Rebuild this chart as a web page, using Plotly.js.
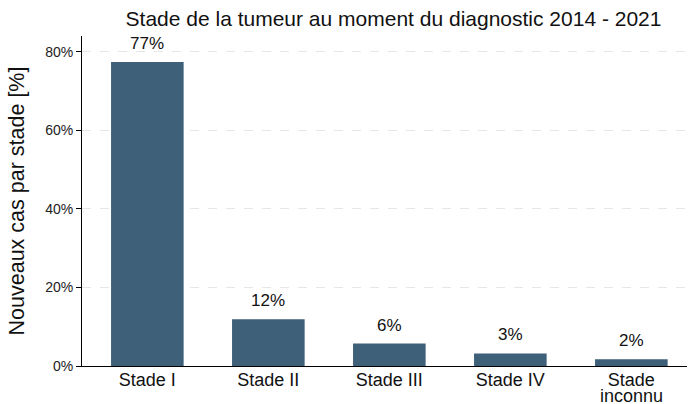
<!DOCTYPE html>
<html>
<head>
<meta charset="utf-8">
<script src="https://cdn.plot.ly/plotly-3.0.1.min.js"></script>
<style>html,body{margin:0;padding:0;background:#fff;}#chart{width:691px;height:404px;}</style>
</head>
<body>
<div id="chart"></div>
<script>
const categories = ["Stade I", "Stade II", "Stade III", "Stade IV", "Stade inconnu"];
const values = [77.4, 11.9, 5.7, 3.2, 1.7];
const labels = ["77%", "12%", "6%", "3%", "2%"];
const xTickLine1 = ["Stade I", "Stade II", "Stade III", "Stade IV", "Stade"];
const xTickLine2 = ["", "", "", "", "inconnu"];
const yTickVals = [0, 20, 40, 60, 80];
const yTickText = ["0%", "20%", "40%", "60%", "80%"];

const font = "Liberation Sans, Arial, sans-serif";

const trace = {
  type: "bar",
  x: categories,
  y: values,
  width: 0.6,
  marker: {color: "#3e6079"},
  hoverinfo: "none"
};

const annotations = categories.map((c, i) => ({
  x: c, y: values[i], text: labels[i], showarrow: false,
  yanchor: "bottom", yshift: 7,
  font: {family: font, size: 17, color: "#111"}
}));

categories.forEach((c, i) => {
  if (xTickLine2[i]) {
    annotations.push({
      x: c, xref: "x", y: 0, yref: "paper", yanchor: "top", yshift: -19,
      borderpad: 0,
      text: xTickLine2[i], showarrow: false,
      font: {family: font, size: 18, color: "#111"}
    });
  }
});

const layout = {
  width: 691, height: 404,
  margin: {l: 82, r: 4, t: 36, b: 38},
  paper_bgcolor: "#fff", plot_bgcolor: "#fff",
  showlegend: false,
  title: {text: "Stade de la tumeur au moment du diagnostic 2014 - 2021",
          font: {family: font, size: 21, color: "#111"},
          x: 0.5695, xanchor: "center", y: 0.955, yanchor: "middle"},
  xaxis: {
    type: "category", range: [-0.54, 4.46],
    tickmode: "array", tickvals: categories, ticktext: xTickLine1,
    showline: true, linecolor: "#000", linewidth: 1,
    ticks: "", showgrid: false, zeroline: false,
    ticklabelstandoff: -3,
    tickfont: {family: font, size: 18, color: "#111"}
  },
  yaxis: {
    range: [0, 84], tickvals: yTickVals, ticktext: yTickText,
    showline: true, linecolor: "#000", linewidth: 1,
    ticks: "outside", ticklen: 5, tickcolor: "#000",
    showgrid: true, gridcolor: "#e6e6e6", griddash: "dash", gridwidth: 1,
    zeroline: false,
    tickfont: {family: font, size: 14, color: "#222"},
    title: {text: "Nouveaux cas par stade [%]", font: {family: font, size: 21.5, color: "#111"}, standoff: 14}
  },
  annotations: annotations
};

Plotly.newPlot("chart", [trace], layout, {displayModeBar: false, staticPlot: true});
</script>
</body>
</html>
